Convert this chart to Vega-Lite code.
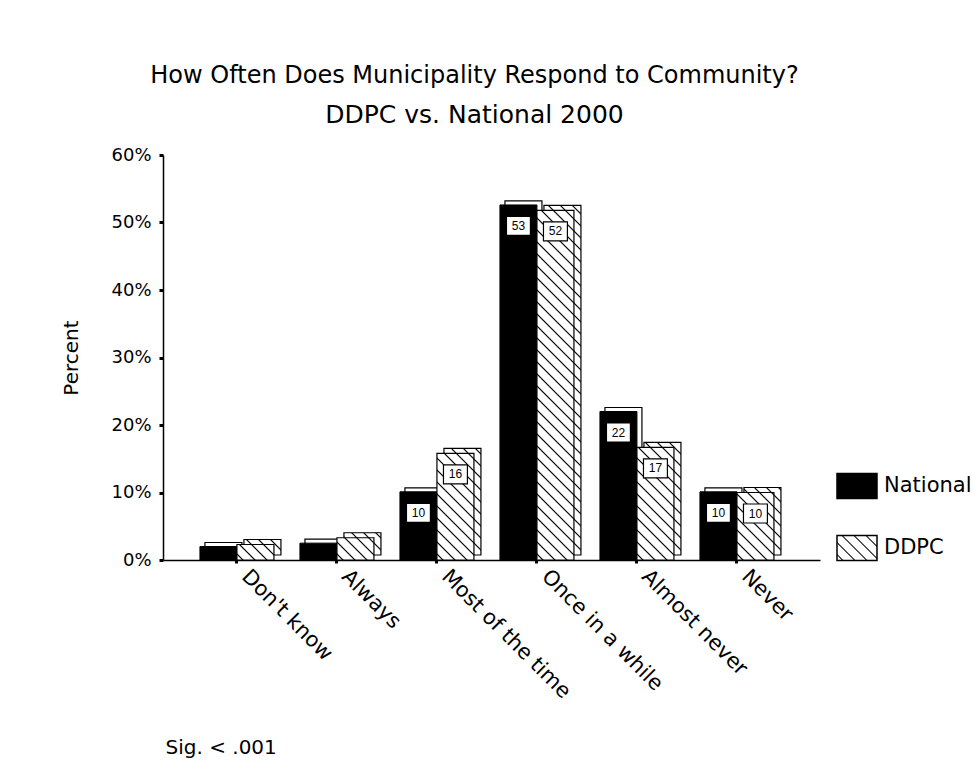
{
  "$schema": "https://vega.github.io/schema/vega-lite/v6.json",
  "width": 657,
  "height": 405,
  "autosize": "none",
  "padding": {"left": 163, "top": 155, "right": 159, "bottom": 219},
  "background": "white",
  "config": {"view": {"stroke": null}, "font": "DejaVu Sans"},
  "params": [
    {
      "name": "grads",
      "value": {
        "Don't know": {"gradient": "linear", "x1": 0, "y1": 1, "x2": 1.2071, "y2": 0.4941, "stops": [
          {"offset": 0.0857, "color": "#ffffff"}, {"offset": 0.1143, "color": "#000000"}, {"offset": 0.1429, "color": "#ffffff"},
          {"offset": 0.3143, "color": "#ffffff"}, {"offset": 0.3429, "color": "#000000"}, {"offset": 0.3714, "color": "#ffffff"},
          {"offset": 0.5429, "color": "#ffffff"}, {"offset": 0.5714, "color": "#000000"}, {"offset": 0.6, "color": "#ffffff"},
          {"offset": 0.7714, "color": "#ffffff"}, {"offset": 0.8, "color": "#000000"}, {"offset": 0.8286, "color": "#ffffff"}]},
        "Always": {"gradient": "linear", "x1": 0, "y1": 1, "x2": 1.176, "y2": 0.2927, "stops": [
          {"offset": 0.0759, "color": "#ffffff"}, {"offset": 0.1012, "color": "#000000"}, {"offset": 0.1265, "color": "#ffffff"},
          {"offset": 0.2782, "color": "#ffffff"}, {"offset": 0.3035, "color": "#000000"}, {"offset": 0.3288, "color": "#ffffff"},
          {"offset": 0.4806, "color": "#ffffff"}, {"offset": 0.5059, "color": "#000000"}, {"offset": 0.5312, "color": "#ffffff"},
          {"offset": 0.683, "color": "#ffffff"}, {"offset": 0.7083, "color": "#000000"}, {"offset": 0.7336, "color": "#ffffff"},
          {"offset": 0.8853, "color": "#ffffff"}, {"offset": 0.9106, "color": "#000000"}, {"offset": 0.9359, "color": "#ffffff"}]},
        "Most of the time": {"gradient": "linear", "x1": 0, "y1": 1, "x2": 0.4176, "y2": -0.2023, "stops": [
          {"offset": 0.0313, "color": "#ffffff"}, {"offset": 0.0418, "color": "#000000"}, {"offset": 0.0522, "color": "#ffffff"},
          {"offset": 0.1148, "color": "#ffffff"}, {"offset": 0.1253, "color": "#000000"}, {"offset": 0.1357, "color": "#ffffff"},
          {"offset": 0.1983, "color": "#ffffff"}, {"offset": 0.2088, "color": "#000000"}, {"offset": 0.2192, "color": "#ffffff"},
          {"offset": 0.2819, "color": "#ffffff"}, {"offset": 0.2923, "color": "#000000"}, {"offset": 0.3027, "color": "#ffffff"},
          {"offset": 0.3654, "color": "#ffffff"}, {"offset": 0.3758, "color": "#000000"}, {"offset": 0.3862, "color": "#ffffff"},
          {"offset": 0.4489, "color": "#ffffff"}, {"offset": 0.4593, "color": "#000000"}, {"offset": 0.4698, "color": "#ffffff"},
          {"offset": 0.5324, "color": "#ffffff"}, {"offset": 0.5428, "color": "#000000"}, {"offset": 0.5533, "color": "#ffffff"},
          {"offset": 0.6159, "color": "#ffffff"}, {"offset": 0.6263, "color": "#000000"}, {"offset": 0.6368, "color": "#ffffff"},
          {"offset": 0.6994, "color": "#ffffff"}, {"offset": 0.7099, "color": "#000000"}, {"offset": 0.7203, "color": "#ffffff"},
          {"offset": 0.7829, "color": "#ffffff"}, {"offset": 0.7934, "color": "#000000"}, {"offset": 0.8038, "color": "#ffffff"},
          {"offset": 0.8665, "color": "#ffffff"}, {"offset": 0.8769, "color": "#000000"}, {"offset": 0.8873, "color": "#ffffff"},
          {"offset": 0.95, "color": "#ffffff"}, {"offset": 0.9604, "color": "#000000"}, {"offset": 0.9708, "color": "#ffffff"}]},
        "Once in a while": {"gradient": "linear", "x1": 0, "y1": 1, "x2": 0.11586, "y2": -0.09366, "stops": [
          {"offset": 0.01164, "color": "#ffffff"}, {"offset": 0.01552, "color": "#000000"}, {"offset": 0.0194, "color": "#ffffff"},
          {"offset": 0.04267, "color": "#ffffff"}, {"offset": 0.04655, "color": "#000000"}, {"offset": 0.05043, "color": "#ffffff"},
          {"offset": 0.0737, "color": "#ffffff"}, {"offset": 0.07758, "color": "#000000"}, {"offset": 0.08146, "color": "#ffffff"},
          {"offset": 0.10474, "color": "#ffffff"}, {"offset": 0.10862, "color": "#000000"}, {"offset": 0.1125, "color": "#ffffff"},
          {"offset": 0.13577, "color": "#ffffff"}, {"offset": 0.13965, "color": "#000000"}, {"offset": 0.14353, "color": "#ffffff"},
          {"offset": 0.1668, "color": "#ffffff"}, {"offset": 0.17068, "color": "#000000"}, {"offset": 0.17456, "color": "#ffffff"},
          {"offset": 0.19784, "color": "#ffffff"}, {"offset": 0.20172, "color": "#000000"}, {"offset": 0.20559, "color": "#ffffff"},
          {"offset": 0.22887, "color": "#ffffff"}, {"offset": 0.23275, "color": "#000000"}, {"offset": 0.23663, "color": "#ffffff"},
          {"offset": 0.2599, "color": "#ffffff"}, {"offset": 0.26378, "color": "#000000"}, {"offset": 0.26766, "color": "#ffffff"},
          {"offset": 0.29094, "color": "#ffffff"}, {"offset": 0.29482, "color": "#000000"}, {"offset": 0.29869, "color": "#ffffff"},
          {"offset": 0.32197, "color": "#ffffff"}, {"offset": 0.32585, "color": "#000000"}, {"offset": 0.32973, "color": "#ffffff"},
          {"offset": 0.353, "color": "#ffffff"}, {"offset": 0.35688, "color": "#000000"}, {"offset": 0.36076, "color": "#ffffff"},
          {"offset": 0.38404, "color": "#ffffff"}, {"offset": 0.38792, "color": "#000000"}, {"offset": 0.39179, "color": "#ffffff"},
          {"offset": 0.41507, "color": "#ffffff"}, {"offset": 0.41895, "color": "#000000"}, {"offset": 0.42283, "color": "#ffffff"},
          {"offset": 0.4461, "color": "#ffffff"}, {"offset": 0.44998, "color": "#000000"}, {"offset": 0.45386, "color": "#ffffff"},
          {"offset": 0.47714, "color": "#ffffff"}, {"offset": 0.48101, "color": "#000000"}, {"offset": 0.48489, "color": "#ffffff"},
          {"offset": 0.50817, "color": "#ffffff"}, {"offset": 0.51205, "color": "#000000"}, {"offset": 0.51593, "color": "#ffffff"},
          {"offset": 0.5392, "color": "#ffffff"}, {"offset": 0.54308, "color": "#000000"}, {"offset": 0.54696, "color": "#ffffff"},
          {"offset": 0.57024, "color": "#ffffff"}, {"offset": 0.57411, "color": "#000000"}, {"offset": 0.57799, "color": "#ffffff"},
          {"offset": 0.60127, "color": "#ffffff"}, {"offset": 0.60515, "color": "#000000"}, {"offset": 0.60903, "color": "#ffffff"},
          {"offset": 0.6323, "color": "#ffffff"}, {"offset": 0.63618, "color": "#000000"}, {"offset": 0.64006, "color": "#ffffff"},
          {"offset": 0.66333, "color": "#ffffff"}, {"offset": 0.66721, "color": "#000000"}, {"offset": 0.67109, "color": "#ffffff"},
          {"offset": 0.69437, "color": "#ffffff"}, {"offset": 0.69825, "color": "#000000"}, {"offset": 0.70213, "color": "#ffffff"},
          {"offset": 0.7254, "color": "#ffffff"}, {"offset": 0.72928, "color": "#000000"}, {"offset": 0.73316, "color": "#ffffff"},
          {"offset": 0.75643, "color": "#ffffff"}, {"offset": 0.76031, "color": "#000000"}, {"offset": 0.76419, "color": "#ffffff"},
          {"offset": 0.78747, "color": "#ffffff"}, {"offset": 0.79135, "color": "#000000"}, {"offset": 0.79523, "color": "#ffffff"},
          {"offset": 0.8185, "color": "#ffffff"}, {"offset": 0.82238, "color": "#000000"}, {"offset": 0.82626, "color": "#ffffff"},
          {"offset": 0.84953, "color": "#ffffff"}, {"offset": 0.85341, "color": "#000000"}, {"offset": 0.85729, "color": "#ffffff"},
          {"offset": 0.88057, "color": "#ffffff"}, {"offset": 0.88445, "color": "#000000"}, {"offset": 0.88833, "color": "#ffffff"},
          {"offset": 0.9116, "color": "#ffffff"}, {"offset": 0.91548, "color": "#000000"}, {"offset": 0.91936, "color": "#ffffff"},
          {"offset": 0.94263, "color": "#ffffff"}, {"offset": 0.94651, "color": "#000000"}, {"offset": 0.95039, "color": "#ffffff"},
          {"offset": 0.97367, "color": "#ffffff"}, {"offset": 0.97755, "color": "#000000"}, {"offset": 0.98143, "color": "#ffffff"}]},
        "Almost never": {"gradient": "linear", "x1": 0, "y1": 1, "x2": 0.394, "y2": -0.1991, "stops": [
          {"offset": 0.03, "color": "#ffffff"}, {"offset": 0.0401, "color": "#000000"}, {"offset": 0.0501, "color": "#ffffff"},
          {"offset": 0.1102, "color": "#ffffff"}, {"offset": 0.1202, "color": "#000000"}, {"offset": 0.1302, "color": "#ffffff"},
          {"offset": 0.1903, "color": "#ffffff"}, {"offset": 0.2003, "color": "#000000"}, {"offset": 0.2103, "color": "#ffffff"},
          {"offset": 0.2704, "color": "#ffffff"}, {"offset": 0.2804, "color": "#000000"}, {"offset": 0.2905, "color": "#ffffff"},
          {"offset": 0.3505, "color": "#ffffff"}, {"offset": 0.3606, "color": "#000000"}, {"offset": 0.3706, "color": "#ffffff"},
          {"offset": 0.4307, "color": "#ffffff"}, {"offset": 0.4407, "color": "#000000"}, {"offset": 0.4507, "color": "#ffffff"},
          {"offset": 0.5108, "color": "#ffffff"}, {"offset": 0.5208, "color": "#000000"}, {"offset": 0.5308, "color": "#ffffff"},
          {"offset": 0.5909, "color": "#ffffff"}, {"offset": 0.6009, "color": "#000000"}, {"offset": 0.611, "color": "#ffffff"},
          {"offset": 0.671, "color": "#ffffff"}, {"offset": 0.6811, "color": "#000000"}, {"offset": 0.6911, "color": "#ffffff"},
          {"offset": 0.7512, "color": "#ffffff"}, {"offset": 0.7612, "color": "#000000"}, {"offset": 0.7712, "color": "#ffffff"},
          {"offset": 0.8313, "color": "#ffffff"}, {"offset": 0.8413, "color": "#000000"}, {"offset": 0.8513, "color": "#ffffff"},
          {"offset": 0.9114, "color": "#ffffff"}, {"offset": 0.9214, "color": "#000000"}, {"offset": 0.9315, "color": "#ffffff"}]},
        "Never": {"gradient": "linear", "x1": 0, "y1": 1, "x2": 0.6532, "y2": -0.1903, "stops": [
          {"offset": 0.043, "color": "#ffffff"}, {"offset": 0.0574, "color": "#000000"}, {"offset": 0.0717, "color": "#ffffff"},
          {"offset": 0.1578, "color": "#ffffff"}, {"offset": 0.1722, "color": "#000000"}, {"offset": 0.1865, "color": "#ffffff"},
          {"offset": 0.2726, "color": "#ffffff"}, {"offset": 0.287, "color": "#000000"}, {"offset": 0.3013, "color": "#ffffff"},
          {"offset": 0.3874, "color": "#ffffff"}, {"offset": 0.4018, "color": "#000000"}, {"offset": 0.4161, "color": "#ffffff"},
          {"offset": 0.5022, "color": "#ffffff"}, {"offset": 0.5166, "color": "#000000"}, {"offset": 0.5309, "color": "#ffffff"},
          {"offset": 0.617, "color": "#ffffff"}, {"offset": 0.6313, "color": "#000000"}, {"offset": 0.6457, "color": "#ffffff"},
          {"offset": 0.7318, "color": "#ffffff"}, {"offset": 0.7461, "color": "#000000"}, {"offset": 0.7605, "color": "#ffffff"},
          {"offset": 0.8466, "color": "#ffffff"}, {"offset": 0.8609, "color": "#000000"}, {"offset": 0.8753, "color": "#ffffff"},
          {"offset": 0.9614, "color": "#ffffff"}, {"offset": 0.9757, "color": "#000000"}, {"offset": 0.9901, "color": "#ffffff"}]},
        "legend": {"gradient": "linear", "x1": 0, "y1": 1, "x2": 1.1685, "y2": 0.2697, "stops": [
          {"offset": 0.0692, "color": "#ffffff"}, {"offset": 0.0923, "color": "#000000"}, {"offset": 0.1154, "color": "#ffffff"},
          {"offset": 0.2538, "color": "#ffffff"}, {"offset": 0.2769, "color": "#000000"}, {"offset": 0.3, "color": "#ffffff"},
          {"offset": 0.4385, "color": "#ffffff"}, {"offset": 0.4615, "color": "#000000"}, {"offset": 0.4846, "color": "#ffffff"},
          {"offset": 0.6231, "color": "#ffffff"}, {"offset": 0.6462, "color": "#000000"}, {"offset": 0.6692, "color": "#ffffff"},
          {"offset": 0.8077, "color": "#ffffff"}, {"offset": 0.8308, "color": "#000000"}, {"offset": 0.8538, "color": "#ffffff"}]}
      }
    }
  ],
  "title": {
    "text": "How Often Does Municipality Respond to Community?",
    "subtitle": "DDPC vs. National 2000",
    "anchor": "middle",
    "frame": "group",
    "font": "DejaVu Sans",
    "fontSize": 24,
    "fontWeight": "normal",
    "color": "black",
    "subtitleFont": "DejaVu Sans",
    "subtitleFontSize": 25,
    "subtitleColor": "black",
    "subtitlePadding": 15,
    "offset": 18,
    "dx": -17
  },
  "data": {
    "values": [
      {"cat": "Don't know", "series": "National", "value": 2.0},
      {"cat": "Don't know", "series": "DDPC", "value": 2.3},
      {"cat": "Always", "series": "National", "value": 2.5},
      {"cat": "Always", "series": "DDPC", "value": 3.3},
      {"cat": "Most of the time", "series": "National", "value": 10.1},
      {"cat": "Most of the time", "series": "DDPC", "value": 15.8},
      {"cat": "Once in a while", "series": "National", "value": 52.6},
      {"cat": "Once in a while", "series": "DDPC", "value": 51.8},
      {"cat": "Almost never", "series": "National", "value": 22.0},
      {"cat": "Almost never", "series": "DDPC", "value": 16.7},
      {"cat": "Never", "series": "National", "value": 10.1},
      {"cat": "Never", "series": "DDPC", "value": 10.0}
    ]
  },
  "encoding": {
    "x": {
      "field": "cat",
      "type": "nominal",
      "sort": ["Don't know", "Always", "Most of the time", "Once in a while", "Almost never", "Never"],
      "scale": {"paddingInner": 0, "paddingOuter": 0.285, "align": 0.42},
      "axis": {
        "title": "Sig. < .001",
        "titleX": 2,
        "titleY": 187,
        "titleAlign": "left",
        "titleBaseline": "middle",
        "titleFont": "DejaVu Sans",
        "titleFontSize": 20,
        "titleFontWeight": "normal",
        "titleColor": "black",
        "labelAngle": 45,
        "labelAlign": "left",
        "labelBaseline": "middle",
        "labelFont": "DejaVu Sans",
        "labelFontSize": 21,
        "labelColor": "black",
        "labelPadding": 10,
        "labelOffset": 8,
        "labelOverlap": false,
        "labelLimit": 0,
        "tickSize": 3,
        "tickWidth": 3,
        "tickColor": "black",
        "domainColor": "black",
        "domainWidth": 1.5,
        "bandPosition": 0.5
      }
    },
    "y": {
      "field": "value",
      "type": "quantitative",
      "scale": {"domain": [0, 60], "nice": false},
      "axis": {
        "title": "Percent",
        "values": [0, 10, 20, 30, 40, 50, 60],
        "labelExpr": "datum.value + '%'",
        "labelFont": "DejaVu Sans",
        "labelFontSize": 18,
        "labelColor": "black",
        "labelPadding": 8,
        "tickSize": 4,
        "tickWidth": 3,
        "tickColor": "black",
        "domainColor": "black",
        "domainWidth": 1.5,
        "grid": false,
        "titleFont": "DejaVu Sans",
        "titleFontSize": 20,
        "titleFontWeight": "normal",
        "titleColor": "black",
        "titleX": -92,
        "titleY": 202.5,
        "titleAngle": -90,
        "titleAlign": "center",
        "titleBaseline": "middle"
      }
    }
  },
  "layer": [
    {
      "transform": [{"filter": "datum.series === 'National'"}],
      "mark": {"type": "bar", "width": 37, "xOffset": -13.5, "yOffset": -4, "y2Offset": 0, "fill": "white", "stroke": "black", "strokeWidth": 1.2}
    },
    {
      "transform": [{"filter": "datum.series === 'National'"}],
      "mark": {"type": "bar", "width": 37, "xOffset": -18.5, "stroke": "black", "strokeWidth": 1},
      "encoding": {
        "fill": {
          "field": "series",
          "type": "nominal",
          "scale": {"domain": ["National", "DDPC"], "range": [{"expr": "'black'"}, {"expr": "grads.legend"}]},
          "legend": {
            "orient": "none",
            "legendX": 673,
            "legendY": 310,
            "title": null,
            "padding": 0,
            "symbolType": "M-1,-0.625H1V0.625H-1Z",
            "symbolSize": 1600,
            "symbolStrokeColor": "black",
            "symbolStrokeWidth": 1.5,
            "labelFont": "DejaVu Sans",
            "labelFontSize": 21,
            "labelColor": "black",
            "labelOffset": 6,
            "rowPadding": 25,
            "encode": {
              "symbols": {
                "update": {
                  "stroke": {"value": "black"},
                  "strokeWidth": {"value": 1.5},
                  "opacity": {"value": 1}
                }
              }
            }
          }
        }
      }
    },
    {
      "transform": [{"filter": "datum.series === 'DDPC'"}],
      "mark": {"type": "bar", "width": 37, "xOffset": 25.5, "yOffset": -5, "y2Offset": 0, "stroke": "black", "strokeWidth": 1.2},
      "encoding": {"fill": {"value": {"expr": "grads[datum.cat]"}}}
    },
    {
      "transform": [{"filter": "datum.series === 'DDPC'"}],
      "mark": {"type": "bar", "width": 37, "xOffset": 18.5, "stroke": "black", "strokeWidth": 1.2},
      "encoding": {"fill": {"value": {"expr": "grads[datum.cat]"}}}
    },
    {
      "transform": [{"filter": "datum.value >= 5 && datum.series === 'National'"}],
      "mark": {"type": "point", "shape": "M-1.26,-1H1.26V1H-1.26Z", "size": 361, "filled": true, "fill": "white", "stroke": "black", "strokeWidth": 1.2, "opacity": 1, "xOffset": -18.5, "yOffset": 21}
    },
    {
      "transform": [{"filter": "datum.value >= 5 && datum.series === 'DDPC'"}],
      "mark": {"type": "point", "shape": "M-1.26,-1H1.26V1H-1.26Z", "size": 361, "filled": true, "fill": "white", "stroke": "black", "strokeWidth": 1.2, "opacity": 1, "xOffset": 18.5, "yOffset": 21}
    },
    {
      "transform": [{"filter": "datum.value >= 5 && datum.series === 'National'"}],
      "mark": {"type": "text", "xOffset": -18.5, "yOffset": 21, "font": "Liberation Sans", "fontSize": 12, "fill": "black", "baseline": "middle", "align": "center"},
      "encoding": {"text": {"field": "value", "type": "quantitative", "format": ".0f"}}
    },
    {
      "transform": [{"filter": "datum.value >= 5 && datum.series === 'DDPC'"}],
      "mark": {"type": "text", "xOffset": 18.5, "yOffset": 21, "font": "Liberation Sans", "fontSize": 12, "fill": "black", "baseline": "middle", "align": "center"},
      "encoding": {"text": {"field": "value", "type": "quantitative", "format": ".0f"}}
    }
  ]
}
